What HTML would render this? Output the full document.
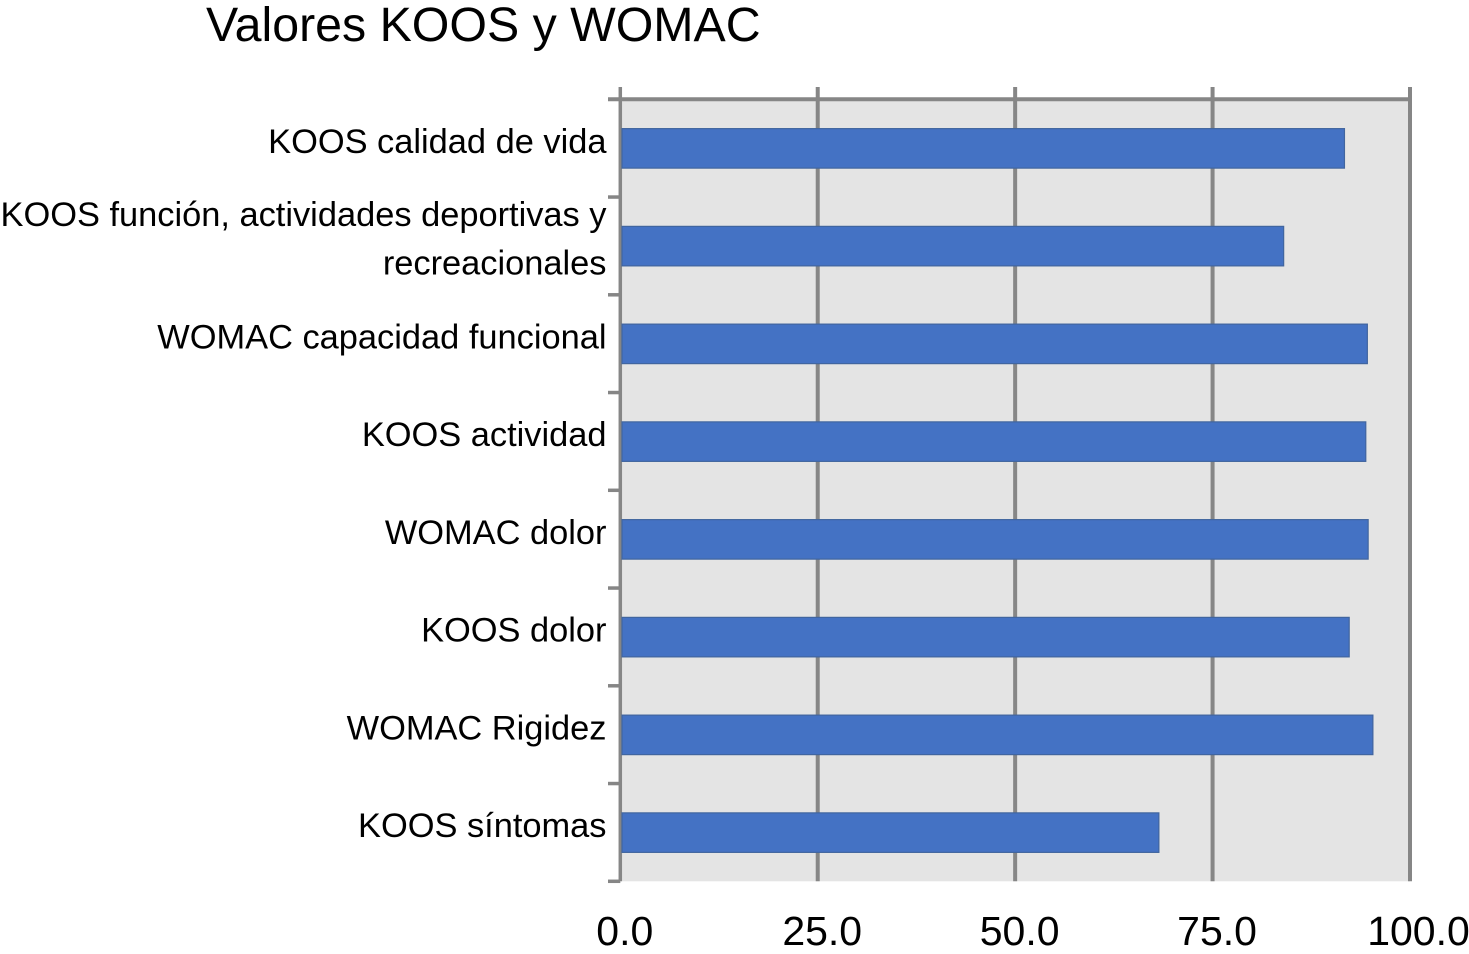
<!DOCTYPE html>
<html lang="es">
<head>
<meta charset="utf-8">
<title>Valores KOOS y WOMAC</title>
<style>
  html, body { margin: 0; padding: 0; background: #ffffff; }
  #chart { display: block; width: 1469px; height: 954px; font-family: "Liberation Sans", Arial, sans-serif; fill: #000000; }
</style>
</head>
<body>
<svg id="chart" xmlns="http://www.w3.org/2000/svg" width="1469" height="954" viewBox="0 0 1469 954">
  <text id="title" x="206" y="41" font-size="48.3">Valores KOOS y WOMAC</text>
</svg>
<script>
const categories = [
  ["KOOS calidad de vida"],
  ["KOOS función, actividades deportivas y", "recreacionales"],
  ["WOMAC capacidad funcional"],
  ["KOOS actividad"],
  ["WOMAC dolor"],
  ["KOOS dolor"],
  ["WOMAC Rigidez"],
  ["KOOS síntomas"]
];
const seriesValues = [91.7, 84.0, 94.6, 94.4, 94.7, 92.3, 95.3, 68.2];
const xTicks = [0, 25, 50, 75, 100];
const xTickLabels = ["0.0", "25.0", "50.0", "75.0", "100.0"];

const svg = document.getElementById('chart');
const NS = 'http://www.w3.org/2000/svg';
const plot = { left: 620.3, right: 1410, top: 99.3, bottom: 881.3 };
const xMax = 100;

function xScale(v) {
  return plot.left + (v / xMax) * (plot.right - plot.left);
}
function bandTop(i) {
  return plot.top + i * (plot.bottom - plot.top) / categories.length;
}
function bandCenter(i) {
  return bandTop(i) + (plot.bottom - plot.top) / categories.length / 2;
}
function make(tag, attrs) {
  const el = document.createElementNS(NS, tag);
  for (const k in attrs) el.setAttribute(k, attrs[k]);
  svg.appendChild(el);
  return el;
}

const bg = make('rect', { x: plot.left, y: plot.top, width: plot.right - plot.left, height: plot.bottom - plot.top, fill: '#e4e4e4' });



xTicks.forEach(function (t) {
  const g = make('line', { x1: xScale(t), x2: xScale(t), y1: 87, y2: plot.bottom, stroke: '#868686', 'stroke-width': t === 0 ? 3.5 : 4 });
  
  
});

const topAxis = make('line', { x1: 608, x2: plot.right + 2, y1: plot.top, y2: plot.top, stroke: '#868686', 'stroke-width': 4 });



for (let i = 1; i <= categories.length; i++) {
  const tk = make('line', { x1: 608, x2: plot.left, y1: bandTop(i), y2: bandTop(i), stroke: '#868686', 'stroke-width': 3.5 });
  
  
}

seriesValues.forEach(function (v, i) {
  const h = 39.5;
  const b = make('rect', { x: 622, y: bandCenter(i) - h / 2 + 0.2, width: xScale(v) - 622, height: h, fill: '#4472c4', stroke: '#41659f', 'stroke-width': 1.2 });
  
  
});

categories.forEach(function (lines, i) {
  const isWrapped = lines.length > 1;
  lines.forEach(function (line, j) {
    const y = isWrapped ? bandCenter(i) - 19.8 + j * 48.5 : bandCenter(i) + 4.6;
    const t = make('text', { x: 606.5, y: y, 'font-size': 34.4, 'text-anchor': 'end' });
    t.textContent = line;
    
    
  });
});

xTickLabels.forEach(function (label, i) {
  const off = xTicks[i] === xMax ? 8.5 : 4.5;
  const t = make('text', { x: xScale(xTicks[i]) + off, y: 945, 'font-size': 41, 'text-anchor': 'middle' });
  t.textContent = label;
  
  
});
</script>
</body>
</html>
